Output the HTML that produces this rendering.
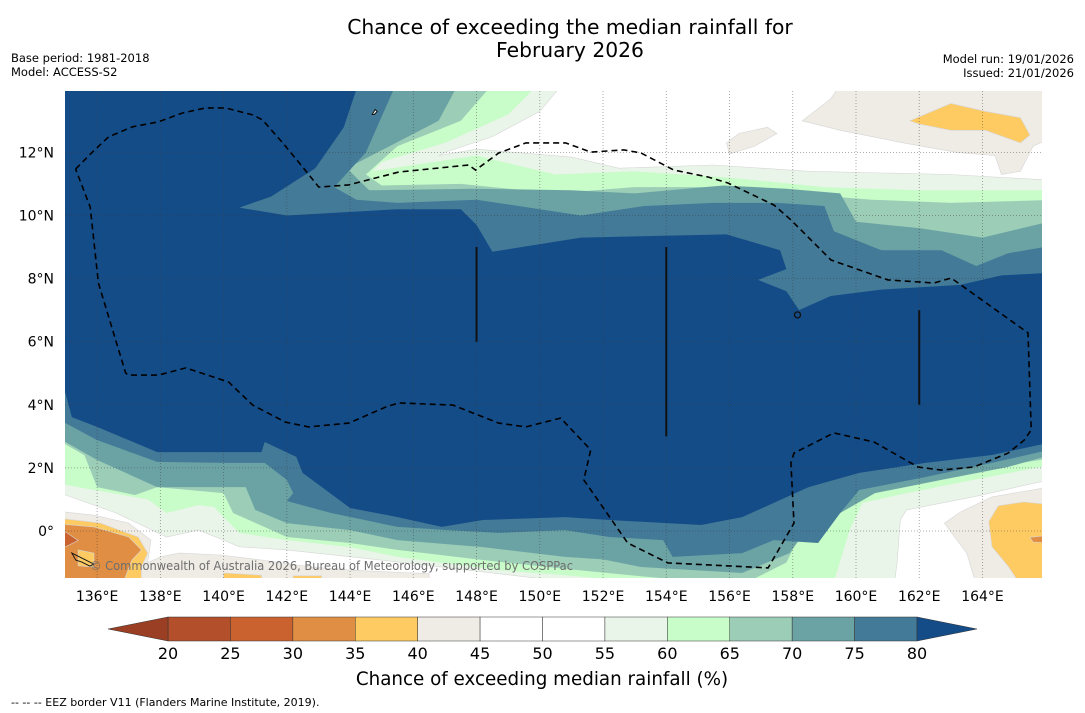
<!DOCTYPE html>
<html><head><meta charset="utf-8"><style>
html,body{margin:0;padding:0;background:#fff;}
svg{display:block;font-family:"DejaVu Sans","Liberation Sans",sans-serif;}
</style></head><body>
<svg id="chart" width="1085" height="713" viewBox="0 0 1085 713" xmlns="http://www.w3.org/2000/svg">
<defs><clipPath id="mapclip"><rect x="65" y="91" width="977" height="487"/></clipPath></defs>
<text x="570" y="34" font-size="20.3" text-anchor="middle">Chance of exceeding the median rainfall for</text>
<text x="570" y="57" font-size="20.3" text-anchor="middle">February 2026</text>
<text x="11" y="62" font-size="11.5">Base period: 1981-2018</text>
<text x="11" y="76" font-size="11.5">Model: ACCESS-S2</text>
<text x="1074" y="63" font-size="11.5" text-anchor="end">Model run: 19/01/2026</text>
<text x="1074" y="77" font-size="11.5" text-anchor="end">Issued: 21/01/2026</text>
<g id="map" clip-path="url(#mapclip)"></g>
<g id="axes"></g>
<g id="cbar"></g>
<text x="542" y="685" font-size="18.3" text-anchor="middle">Chance of exceeding median rainfall (%)</text>
<text x="11" y="706" font-size="11">--  --  -- EEZ border V11 (Flanders Marine Institute, 2019).</text>
</svg>
<script>
// ---- data ----
const levels = [20,25,30,35,40,45,50,55,60,65,70,75,80];
const levelColors = ["#b34f2a","#c9622f","#df8e43","#fecb63","#efebe5","#ffffff","#ffffff","#e9f5e8","#c8fcc8","#9bcdb7","#6ba3a4","#437a98"];
const underColor = "#9b3f24";
const overColor = "#144c88";
const lonTicks = [136,138,140,142,144,146,148,150,152,154,156,158,160,162,164];
const latTicks = [0,2,4,6,8,10,12];
// north boundaries (lon,lat) for thresholds 55,60,65,70,75,80
const north55 = [[134.5,15.5],[151,15.5],[151,14.5],[150,13.3],[148.5,12.5],[147,12.0],[146.8,11.9],[148,12.1],[151,11.85],[152.5,11.5],[155.5,11.6],[158.5,11.4],[163,11.3],[166.5,11.1]];
const north60 = [[134.5,15.5],[150.3,15.5],[150.3,14.5],[149,13.2],[147,12.3],[145,11.7],[144.7,11.4],[146,11.6],[148,11.9],[150.5,11.3],[153,11.4],[156,11.2],[159,10.9],[162,10.8],[166.5,10.8]];
const north65 = [[134.5,15.5],[148.8,15.5],[148.8,14.5],[147.5,13],[145.5,12.2],[144.5,11.3],[145,10.95],[147.5,11.0],[150.5,10.7],[153,10.9],[155.8,10.9],[158,10.7],[160.5,10.5],[163,10.4],[166.5,10.5]];
const north70 = [[134.5,15.5],[147.6,15.5],[147.6,14.5],[146.8,13],[143.9,11.5],[144.6,10.8],[147.9,10.85],[151,10.8],[153,10.7],[155.8,10.95],[157.8,10.85],[159.5,10.7],[160,9.8],[162,9.6],[164,9.3],[166.5,9.9]];
const north75 = [[134.5,15.5],[145.7,15.5],[145.6,14.5],[144.5,12.0],[143.5,10.9],[144.2,10.5],[145.5,10.4],[148,10.5],[150,10.2],[151.3,10.0],[153.3,10.3],[155.5,10.4],[157.5,10.4],[159,10.3],[159.3,9.5],[160.8,8.9],[162.7,8.9],[163.8,8.4],[164.8,8.8],[166.5,9.1]];
const north80 = [[134.5,15.5],[144.3,15.5],[144.2,14],[143.8,12.8],[142.9,11.5],[141.5,10.6],[140.5,10.25],[142,10.0],[145.5,10.2],[147.5,10.2],[148,9.7],[148.5,8.85],[151.3,9.3],[155.9,9.4],[157.6,8.9],[157.8,8.3],[156.9,7.96],[157.8,7.6],[158.2,7.0],[159.2,7.45],[160.8,7.65],[163.3,7.8],[164.6,8.1],[166.5,8.2]];
// south boundaries
const south55 = [[134.5,1.14],[135,1.14],[136.6,0.57],[138.2,-0.19],[139.2,0.03],[140,-0.29],[140.5,-0.5],[142,-0.6],[145.5,-0.98],[150.8,-1.6],[155,-1.8],[161.2,-1.8],[161.3,-1.0],[161.4,0.35],[161.6,0.67],[163.7,1.08],[166.5,1.71]];
const south60 = [[134.5,1.46],[135,1.46],[137.6,1.0],[138.2,0.57],[139.2,0.82],[139.7,0.76],[140,0.44],[140.5,-0.06],[142,-0.29],[144,-0.51],[145.5,-0.82],[148.7,-1.24],[150.8,-1.4],[153,-1.6],[156,-1.7],[158.5,-1.7],[159.3,-1.6],[159.8,0.03],[160.2,0.89],[161.6,1.2],[163.7,1.62],[166.5,2.16]];
const south65 = [[134.5,2.75],[135,2.75],[135.6,2.4],[136,1.39],[137.2,1.14],[137.9,1.39],[140,1.2],[140.3,0.57],[140.8,0.35],[142,-0.19],[144,-0.38],[145.5,-0.6],[148.2,-0.92],[150.8,-1.2],[153.9,-1.5],[156.4,-1.7],[157.8,-1.0],[158.4,0.25],[159.0,0.6],[160.1,1.08],[161.6,1.62],[163.7,1.93],[166.5,2.35]];
const south70 = [[134.5,2.82],[135,2.82],[136,2.25],[137.9,1.39],[140,1.39],[140.7,1.39],[141,0.67],[142,0.25],[144,0.03],[145.5,-0.29],[148.2,-0.51],[150.8,-0.82],[152,-0.9],[153.2,-1.14],[156.4,-1.33],[157.9,-0.7],[158.5,0.13],[159.5,0.57],[160.6,1.2],[162.7,1.62],[164.8,2.03],[166.5,2.5]];
const south75 = [[134.5,3.42],[135,3.42],[136,2.88],[137.9,2.19],[140,2.16],[141.3,2.16],[142,1.62],[142.2,1.2],[142,0.95],[143.4,0.57],[145.5,0.13],[147.1,0.03],[148.7,-0.06],[150.8,0.03],[152.2,-0.19],[153.9,-0.29],[154.2,-0.82],[156.4,-0.7],[157.4,-0.29],[158.8,-0.38],[159.5,0.57],[160.1,1.3],[162.2,1.71],[164.3,2.16],[166.5,2.66]];
const south80 = [[134.5,4.37],[135,4.37],[135.2,3.61],[136,3.3],[137.9,2.5],[140,2.5],[141.2,2.5],[141.3,2.82],[142.3,2.35],[142.5,1.84],[144,0.73],[145.5,0.44],[146.9,0.13],[148.2,0.35],[150.8,0.44],[152.2,0.35],[155.1,0.19],[156.4,0.44],[157.4,0.89],[158.5,1.39],[160.1,1.84],[162.2,2.16],[164.3,2.41],[166.5,2.88]];
// low-value patches
const patchBeigeNE = [[158.3,13.0],[159.2,13.7],[159.8,14.6],[166.5,14.6],[166.5,12.6],[165.6,12.2],[165.2,11.4],[164.6,11.3],[164.4,11.9],[163.2,12.0],[161.5,12.3],[160.5,12.5],[159.5,12.7]];
const patchBeigeN = [[155.9,12.3],[156.3,12.6],[157.2,12.8],[157.5,12.6],[156.8,12.2],[156,11.95]];
const patchOrangeNE = [[161.7,13.0],[163,13.55],[164.1,13.3],[165.2,13.1],[165.5,12.55],[165.2,12.3],[164.1,12.7],[163,12.7],[162,12.9]];
const patchBeigeSE = [[166.5,1.46],[164.3,1.08],[163.3,0.6],[162.8,0.25],[163.2,-0.3],[163.5,-0.7],[163.8,-1.7],[166.5,-1.7]];
const patchOrangeSE = [[164.5,0.8],[165.3,0.92],[166.5,0.8],[166.5,-1.7],[165.2,-1.7],[164.8,-1.1],[164.3,-0.5],[164.2,0.3]];
const patchDarkOrangeSE = [[165.5,-0.2],[166.5,-0.1],[166.5,-0.4],[165.6,-0.35]];
const patchBeigeSW = [[134.5,0.6],[135,0.6],[135.9,0.5],[137,0.25],[137.7,-0.29],[137.6,-1.0],[138,-0.82],[138.6,-0.7],[139.9,-0.76],[141.2,-0.92],[142.8,-1.14],[144,-1.24],[145.3,-1.3],[146.5,-1.35],[146.5,-1.7],[134.5,-1.7]];
const patchOrangeSW = [[134.5,0.44],[136.1,0.25],[137.3,-0.19],[137.6,-0.7],[137.4,-1.14],[137.4,-1.7],[134.5,-1.7]];
const patchDOrangeSW = [[134.5,0.25],[135.9,0.13],[137,-0.19],[137.4,-0.6],[137.1,-0.92],[136.8,-1.7],[134.5,-1.7]];
const patchOrangeInSW = [[135.4,-0.6],[135.9,-0.7],[135.9,-1.14],[135.4,-1.1]];
const patchRedSW = [[134.5,-0.03],[135,-0.03],[135.4,-0.3],[135,-0.5],[134.5,-0.5]];
const patchOrangeB1 = [[140,-1.33],[141.2,-1.4],[141.2,-1.7],[140,-1.7]];
const patchOrangeB2 = [[142.2,-1.42],[143.1,-1.42],[143.1,-1.7],[142.2,-1.7]];
// EEZ border
const eez = [[135.32,11.47],[135.85,12.01],[136.36,12.49],[137.12,12.81],[137.94,12.97],[138.70,13.25],[139.43,13.41],[140.06,13.41],[140.92,13.19],[141.23,13.03],[141.87,12.30],[142.37,11.70],[143.01,10.90],[143.96,10.97],[145.54,11.38],[147.75,11.60],[147.97,11.44],[148.70,11.98],[149.56,12.30],[150.82,12.30],[151.61,12.01],[152.66,12.08],[153.20,11.98],[154.24,11.44],[155.32,11.22],[155.95,11.03],[157.41,10.33],[157.94,9.86],[159.21,8.59],[161.01,7.96],[162.47,7.86],[163.01,8.02],[165.44,6.28],[165.54,3.20],[165.32,2.88],[164.81,2.47],[163.73,2.03],[162.69,1.93],[161.96,2.03],[160.57,2.82],[159.30,3.11],[158.04,2.47],[157.94,2.16],[158.04,0.25],[157.22,-1.17],[154.05,-1.01],[152.78,-0.38],[151.39,1.62],[151.61,2.57],[150.66,3.58],[150.03,3.42],[149.56,3.30],[148.70,3.42],[147.25,3.99],[145.54,4.06],[145.13,3.93],[143.96,3.42],[142.69,3.30],[141.96,3.45],[140.92,3.99],[140.16,4.72],[138.80,5.17],[137.94,4.94],[136.99,4.94],[136.90,5.01],[136.04,7.86],[135.78,10.27],[135.32,11.47]];
const reefLines = [[148,6,9],[154,3,9],[162,4,7]];

// ---- axes functions ----
const X = lon => 65.5 + (lon - 135) * 31.62;
const Y = lat => 531 - lat * 31.55;
const NS = "http://www.w3.org/2000/svg";
const map = document.getElementById('map');
const axes = document.getElementById('axes');
const cbar = document.getElementById('cbar');
function mk(tag, attrs, parent){const e=document.createElementNS(NS,tag);for(const k in attrs)e.setAttribute(k,attrs[k]);parent.appendChild(e);return e;}
const pts = arr => arr.map(p => X(p[0]).toFixed(1)+','+Y(p[1]).toFixed(1)).join(' ');

let bg = mk('rect',{x:65,y:91,width:977,height:487,fill:'#ffffff'},map);



function patch(poly, color, name){
  const p = mk('polygon',{points:pts(poly),fill:color,stroke:'#d6d6d6','stroke-width':0.6},map);
  
  
}
patch(patchBeigeNE, levelColors[4], 'patch-40-45-northeast');
patch(patchBeigeN, levelColors[4], 'patch-40-45-north');
patch(patchOrangeNE, levelColors[3], 'patch-35-40-northeast');
patch(patchBeigeSE, levelColors[4], 'patch-40-45-southeast');
patch(patchOrangeSE, levelColors[3], 'patch-35-40-southeast');
patch(patchDarkOrangeSE, levelColors[2], 'patch-30-35-southeast');
patch(patchBeigeSW, levelColors[4], 'patch-40-45-southwest');
patch(patchOrangeSW, levelColors[3], 'patch-35-40-southwest');
patch(patchDOrangeSW, levelColors[2], 'patch-30-35-southwest');
patch(patchOrangeInSW, levelColors[3], 'patch-35-40-inner');
patch(patchRedSW, levelColors[1], 'patch-25-30-southwest');
patch(patchOrangeB1, levelColors[3], 'patch-35-40-bottom-1');
patch(patchOrangeB2, levelColors[3], 'patch-35-40-bottom-2');

const bandNorth = [north55, north60, north65, north70, north75, north80];
const bandSouth = [south55, south60, south65, south70, south75, south80];
const bandColors = [levelColors[7], levelColors[8], levelColors[9], levelColors[10], levelColors[11], overColor];
const bandNames = ['band-55-60','band-60-65','band-65-70','band-70-75','band-75-80','band-above-80'];
for (let i = 0; i < bandNorth.length; i++) {
  const poly = bandNorth[i].concat(bandSouth[i].slice().reverse());
  const p = mk('polygon',{points:pts(poly),fill:bandColors[i],stroke:i===0?'#d6d6d6':'none','stroke-width':0.6},map);
  
  
}
lonTicks.forEach(lon => {
  const l = mk('line',{x1:X(lon),x2:X(lon),y1:91,y2:578,stroke:'rgba(60,60,60,0.55)','stroke-width':0.8,'stroke-dasharray':'1,2'},map);
  
  
});
latTicks.forEach(lat => {
  const l = mk('line',{x1:65,x2:1042,y1:Y(lat),y2:Y(lat),stroke:'rgba(60,60,60,0.55)','stroke-width':0.8,'stroke-dasharray':'1,2'},map);
  
  
});
reefLines.forEach(r => {
  const l = mk('line',{x1:X(r[0]),x2:X(r[0]),y1:Y(r[2]),y2:Y(r[1]),stroke:'#111','stroke-width':2},map);
  
  
});
let isl = mk('circle',{cx:X(158.15),cy:Y(6.85),r:3,fill:'none',stroke:'#111','stroke-width':1.3},map);


let guam = mk('path',{d:`M${X(144.7)},${Y(13.2)} l3,-5 l2,2 l-3,3 z`,fill:'#fff',stroke:'#111','stroke-width':1},map);


let png = mk('path',{d:`M${X(135.2)},${Y(-0.7)} l8,4 l6,3 l8,4 l-4,2 l-8,-4 l-6,-2 z`,fill:'none',stroke:'#111','stroke-width':0.9},map);


let ez = mk('polyline',{points:pts(eez),fill:'none',stroke:'#000','stroke-width':1.6,'stroke-dasharray':'6,4'},map);


let cp = mk('text',{x:90,y:570,'font-size':12,fill:'#6e6e6e',textLength:483,lengthAdjust:'spacingAndGlyphs'},map);
cp.textContent = '© Commonwealth of Australia 2026, Bureau of Meteorology, supported by COSPPac';



lonTicks.forEach(lon => {
  const t = mk('text',{x:X(lon),y:601,'font-size':14,'text-anchor':'middle'},axes);
  t.textContent = lon + '°E';
  
  
});
latTicks.forEach(lat => {
  const t = mk('text',{x:54,y:Y(lat)+5,'font-size':14,'text-anchor':'end'},axes);
  t.textContent = lat === 0 ? '0°' : lat + '°N';
  
  
});

const cbX0 = 168, cbX1 = 917, cbY = 617, cbH = 24;
const CX = v => cbX0 + (v - levels[0]) / (levels[levels.length-1] - levels[0]) * (cbX1 - cbX0);
for (let i = 0; i < levels.length - 1; i++) {
  const r = mk('rect',{x:CX(levels[i]),y:cbY,width:CX(levels[i+1])-CX(levels[i]),height:cbH,fill:levelColors[i],stroke:'#333','stroke-width':0.5},cbar);
  
  
}
let la = mk('polygon',{points:`${cbX0},${cbY} 108,${cbY+cbH/2} ${cbX0},${cbY+cbH}`,fill:underColor,stroke:'#333','stroke-width':0.5},cbar);


let ra = mk('polygon',{points:`${cbX1},${cbY} 977,${cbY+cbH/2} ${cbX1},${cbY+cbH}`,fill:overColor,stroke:'#333','stroke-width':0.5},cbar);


levels.forEach(v => {
  const t = mk('text',{x:CX(v),y:659,'font-size':16,'text-anchor':'middle'},cbar);
  t.textContent = v;
  
  
});
</script>
</body></html>
